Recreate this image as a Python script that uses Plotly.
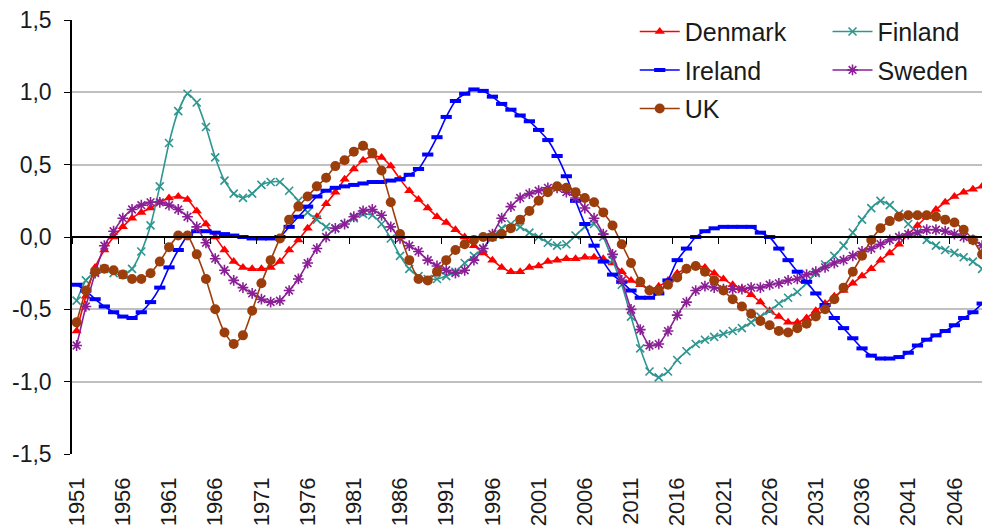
import plotly.graph_objects as go

years = list(range(1951, 2051))

denmark = [-0.65, -0.41, -0.21, -0.09, 0.0, 0.07, 0.13, 0.17, 0.20, 0.24,
           0.27, 0.28, 0.26, 0.18, 0.09, 0.0, -0.09, -0.17, -0.21, -0.22,
           -0.22, -0.21, -0.17, -0.09, -0.02, 0.06, 0.14, 0.23, 0.31, 0.40,
           0.47, 0.53, 0.56, 0.55, 0.49, 0.40, 0.32, 0.26, 0.20, 0.14,
           0.10, 0.05, 0.0, -0.06, -0.11, -0.16, -0.21, -0.24, -0.24, -0.21,
           -0.20, -0.17, -0.16, -0.15, -0.15, -0.14, -0.14, -0.15, -0.18, -0.24,
           -0.30, -0.33, -0.36, -0.34, -0.30, -0.25, -0.22, -0.20, -0.21, -0.25,
           -0.29, -0.33, -0.36, -0.40, -0.45, -0.51, -0.55, -0.59, -0.59, -0.56,
           -0.51, -0.46, -0.41, -0.37, -0.32, -0.27, -0.22, -0.16, -0.11, -0.05,
           0.02, 0.08, 0.14, 0.19, 0.24, 0.28, 0.31, 0.33, 0.35, 0.36]

finland = [-0.44, -0.30, -0.24, -0.22, -0.25, -0.26, -0.22, -0.10, 0.08, 0.35,
           0.65, 0.87, 0.99, 0.93, 0.76, 0.55, 0.39, 0.30, 0.27, 0.30,
           0.36, 0.38, 0.38, 0.32, 0.25, 0.17, 0.12, 0.07, 0.06, 0.09,
           0.13, 0.16, 0.15, 0.09, -0.01, -0.13, -0.22, -0.27, -0.29, -0.29,
           -0.27, -0.24, -0.18, -0.13, -0.08, 0.0, 0.06, 0.09, 0.07, 0.03,
           0.0, -0.04, -0.06, -0.05, 0.01, 0.07, 0.09, 0.0, -0.16, -0.33,
           -0.55, -0.77, -0.93, -0.97, -0.93, -0.85, -0.79, -0.74, -0.71, -0.69,
           -0.67, -0.65, -0.63, -0.59, -0.55, -0.51, -0.46, -0.42, -0.38, -0.32,
           -0.25, -0.19, -0.13, -0.06, 0.03, 0.12, 0.20, 0.25, 0.22, 0.16,
           0.09, 0.03, -0.02, -0.06, -0.09, -0.11, -0.14, -0.17, -0.22, -0.28]

ireland = [-0.33, -0.37, -0.43, -0.48, -0.52, -0.55, -0.56, -0.52, -0.45, -0.35,
           -0.21, -0.09, 0.01, 0.04, 0.04, 0.03, 0.02, 0.01, 0.0, -0.01,
           -0.01, -0.01, 0.0, 0.07, 0.14, 0.21, 0.28, 0.32, 0.34, 0.35,
           0.36, 0.37, 0.38, 0.38, 0.39, 0.40, 0.43, 0.47, 0.57, 0.69,
           0.83, 0.94, 0.99, 1.02, 1.01, 0.97, 0.92, 0.88, 0.84, 0.80,
           0.74, 0.67, 0.56, 0.42, 0.25, 0.09, -0.06, -0.17, -0.26, -0.31,
           -0.37, -0.42, -0.42, -0.39, -0.30, -0.16, -0.08, 0.0, 0.04, 0.06,
           0.07, 0.07, 0.07, 0.07, 0.03, 0.0, -0.08, -0.16, -0.24, -0.31,
           -0.39, -0.47, -0.56, -0.63, -0.70, -0.77, -0.82, -0.84, -0.84, -0.83,
           -0.80, -0.75, -0.71, -0.68, -0.65, -0.61, -0.56, -0.52, -0.46, -0.40]

sweden = [-0.75, -0.48, -0.25, -0.06, 0.04, 0.13, 0.19, 0.22, 0.24, 0.24,
          0.22, 0.19, 0.14, 0.07, -0.04, -0.15, -0.23, -0.30, -0.35, -0.39,
          -0.43, -0.45, -0.44, -0.37, -0.29, -0.18, -0.08, 0.0, 0.06, 0.09,
          0.14, 0.18, 0.19, 0.15, 0.07, -0.01, -0.06, -0.10, -0.16, -0.20,
          -0.23, -0.25, -0.23, -0.16, -0.08, 0.02, 0.13, 0.21, 0.27, 0.30,
          0.32, 0.34, 0.34, 0.31, 0.27, 0.20, 0.13, 0.02, -0.12, -0.30,
          -0.50, -0.64, -0.75, -0.74, -0.65, -0.54, -0.45, -0.37, -0.34, -0.35,
          -0.36, -0.36, -0.36, -0.35, -0.35, -0.33, -0.32, -0.30, -0.29, -0.26,
          -0.24, -0.21, -0.18, -0.16, -0.13, -0.10, -0.08, -0.05, -0.02, 0.0,
          0.02, 0.03, 0.05, 0.05, 0.04, 0.02, 0.0, -0.02, -0.06, -0.10]

uk = [-0.59, -0.37, -0.24, -0.22, -0.23, -0.26, -0.29, -0.29, -0.25, -0.17,
      -0.07, 0.01, 0.01, -0.12, -0.29, -0.50, -0.66, -0.74, -0.68, -0.51,
      -0.32, -0.16, -0.01, 0.12, 0.21, 0.28, 0.35, 0.41, 0.49, 0.53,
      0.59, 0.63, 0.58, 0.46, 0.24, 0.02, -0.16, -0.29, -0.30, -0.24,
      -0.16, -0.09, -0.05, -0.02, 0.0, 0.0, 0.02, 0.06, 0.12, 0.18,
      0.25, 0.31, 0.35, 0.34, 0.31, 0.27, 0.24, 0.17, 0.08, -0.05,
      -0.18, -0.31, -0.37, -0.37, -0.33, -0.28, -0.22, -0.20, -0.24, -0.30,
      -0.37, -0.43, -0.48, -0.53, -0.58, -0.61, -0.65, -0.66, -0.63, -0.60,
      -0.55, -0.50, -0.43, -0.35, -0.24, -0.13, -0.02, 0.06, 0.11, 0.14,
      0.15, 0.15, 0.15, 0.14, 0.12, 0.10, 0.05, -0.02, -0.12, -0.20]

label_years = list(range(1951, 2047, 5))
cat_ticks = [y - 0.5 for y in range(1951, 2051, 5)]
y_ticks = [-1.5, -1.0, -0.5, 0.0, 0.5, 1.0, 1.5]
y_labels = ["-1,5", "-1,0", "-0,5", "0,0", "0,5", "1,0", "1,5"]

FONT = "Arial, Liberation Sans, sans-serif"

fig = go.Figure()

# (name, values, colour, marker, legend, x axis)
# the first trace sits on the bottom axis (labels), the rest on the zero-line axis
series = [
    ("Denmark", denmark, "#FF0000", dict(symbol="triangle-up", size=9), "legend", "x"),
    ("Finland", finland, "#2E9690", dict(symbol="x-thin", size=8, line=dict(width=1.6, color="#2E9690")), "legend2", "x2"),
    ("Ireland", ireland, "#0000FF", dict(symbol="line-ew", size=8, line=dict(width=4, color="#0000FF")), "legend", "x2"),
    ("Sweden", sweden, "#8A1F96", dict(symbol="asterisk", size=9, line=dict(width=1.6, color="#8A1F96")), "legend2", "x2"),
    ("UK", uk, "#9C3E0C", dict(symbol="circle", size=10), "legend", "x2"),
]

for name, vals, color, marker, leg, xa in series:
    fig.add_trace(go.Scatter(
        x=years, y=vals, name=name, mode="lines+markers",
        line=dict(color=color, width=1.6, shape="spline", smoothing=0.5),
        marker=dict(color=color, **marker),
        legend=leg, legendgroup=name, xaxis=xa,
    ))

# page body has an 8px margin, so the figure is 8px smaller than the window
fig.update_layout(
    width=982, height=523,
    margin=dict(l=64, r=0, t=12, b=77),
    plot_bgcolor="white", paper_bgcolor="white",
    font=dict(family=FONT, color="#1a1a1a"),
    xaxis=dict(
        range=[1950.5, 2049.85], tickvals=label_years, ticktext=[str(y) for y in label_years],
        tickangle=-90, tickfont=dict(size=22), showgrid=False, zeroline=False,
        showline=False, ticks="", ticklabelstandoff=18, automargin=False,
        ticklabeloverflow="allow",
    ),
    xaxis2=dict(
        overlaying="x", anchor="free", position=0.5, matches="x",
        tickvals=cat_ticks, showticklabels=False, ticks="outside", ticklen=6,
        tickcolor="black", showline=True, linecolor="black", linewidth=1.5,
        showgrid=False, zeroline=False, automargin=False,
    ),
    yaxis=dict(
        range=[-1.5, 1.5], tickvals=y_ticks, ticktext=y_labels, tickfont=dict(size=23),
        showgrid=True, gridcolor="#C0C0C0", gridwidth=2, zeroline=False,
        showline=True, linecolor="black", linewidth=1.5, ticks="outside", ticklen=6,
        tickcolor="black", ticklabelstandoff=8, automargin=False,
        ticklabeloverflow="allow",
    ),
    legend=dict(x=0.613, y=1.026, xanchor="left", yanchor="top",
                font=dict(size=25), bgcolor="rgba(255,255,255,0)", tracegroupgap=3, itemwidth=40),
    legend2=dict(x=0.823, y=1.026, xanchor="left", yanchor="top",
                 font=dict(size=25), bgcolor="rgba(255,255,255,0)", tracegroupgap=3, itemwidth=40),
)

fig.write_html("out.html")
